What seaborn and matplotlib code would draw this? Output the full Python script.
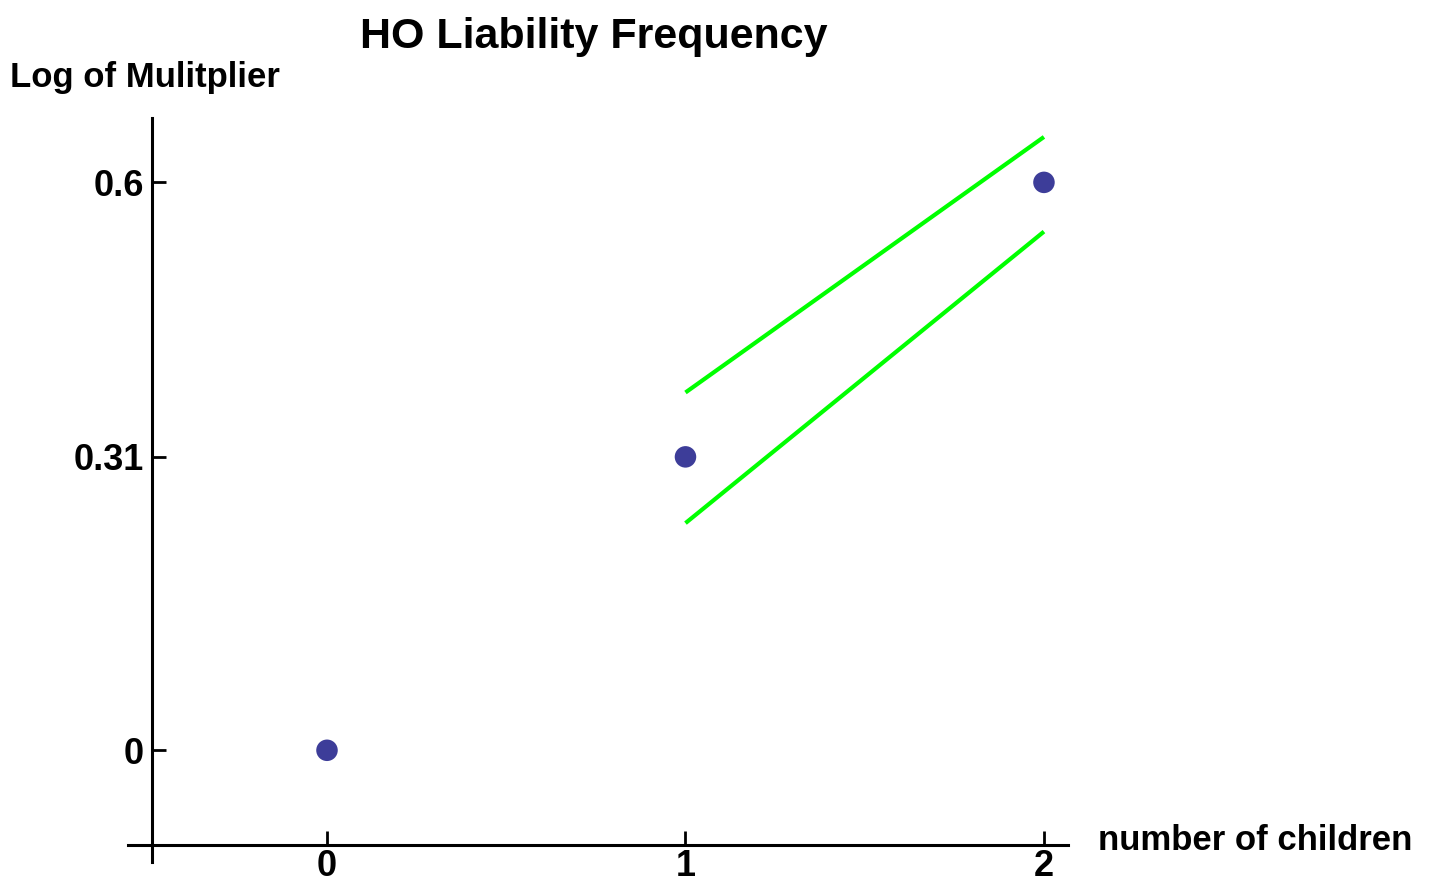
import matplotlib
matplotlib.use("Agg")
import matplotlib.pyplot as plt
import seaborn as sns
import pandas as pd

# === Data ===
children = [0, 1, 2]
log_multiplier = [0.0, 0.31, 0.6]

band_x = [1, 2]
band_upper = [0.378, 0.648]
band_lower = [0.240, 0.548]

tick_x = [0, 1, 2]
tick_y = [0, 0.31, 0.6]
tick_y_labels = ["0", "0.31", "0.6"]

# === Style ===
sns.set_style("white")
plt.rcParams["font.family"] = ["Liberation Sans", "DejaVu Sans"]
plt.rcParams["font.weight"] = "bold"
plt.rcParams["text.color"] = "black"
plt.rcParams["xtick.color"] = "black"
plt.rcParams["ytick.color"] = "black"

fig = plt.figure(figsize=(14.37, 8.82), dpi=100)
ax = fig.add_axes([0.0891, 0.0227, 0.6541, 0.8435])

points = pd.DataFrame({"children": children, "log_mult": log_multiplier})
sns.scatterplot(data=points, x="children", y="log_mult", ax=ax,
                s=240, color="#3d3d99", edgecolor="none", zorder=3)

# confidence band lines
for vals in (band_upper, band_lower):
    sns.lineplot(x=band_x, y=vals, ax=ax, color="#00ff00", linewidth=3,
                 solid_capstyle="butt", zorder=2)

ax.set_xlim(-0.555, 2.067)
ax.set_ylim(-0.118, 0.668)

# Mathematica-style axes crossing at (-0.488, -0.1)
ax.spines["left"].set_position(("data", -0.488))
ax.spines["bottom"].set_position(("data", -0.1))
ax.spines["top"].set_visible(False)
ax.spines["right"].set_visible(False)
for side in ("left", "bottom"):
    ax.spines[side].set_linewidth(2.2)
    ax.spines[side].set_color("black")

ax.set_xticks(tick_x)
ax.set_xticklabels([str(t) for t in tick_x])
ax.set_yticks(tick_y)
ax.set_yticklabels(tick_y_labels)
ax.tick_params(axis="both", direction="in", length=10, width=2, color="black",
               labelsize=26, labelcolor="black", bottom=True, left=True)
ax.tick_params(axis="x", pad=3)
ax.tick_params(axis="y", pad=6)
for lab in ax.get_xticklabels() + ax.get_yticklabels():
    lab.set_fontweight("bold")

ax.set_xlabel("")
ax.set_ylabel("")

fig.text(0.413, 0.958, "HO Liability Frequency", ha="center", va="center",
         fontsize=31, fontweight="bold")
fig.text(0.007, 0.912, "Log of Mulitplier", ha="left", va="center",
         fontsize=25, fontweight="bold")
fig.text(0.764, 0.047, "number of children", ha="left", va="center",
         fontsize=25, fontweight="bold")

fig.savefig("out.png", dpi=100)
